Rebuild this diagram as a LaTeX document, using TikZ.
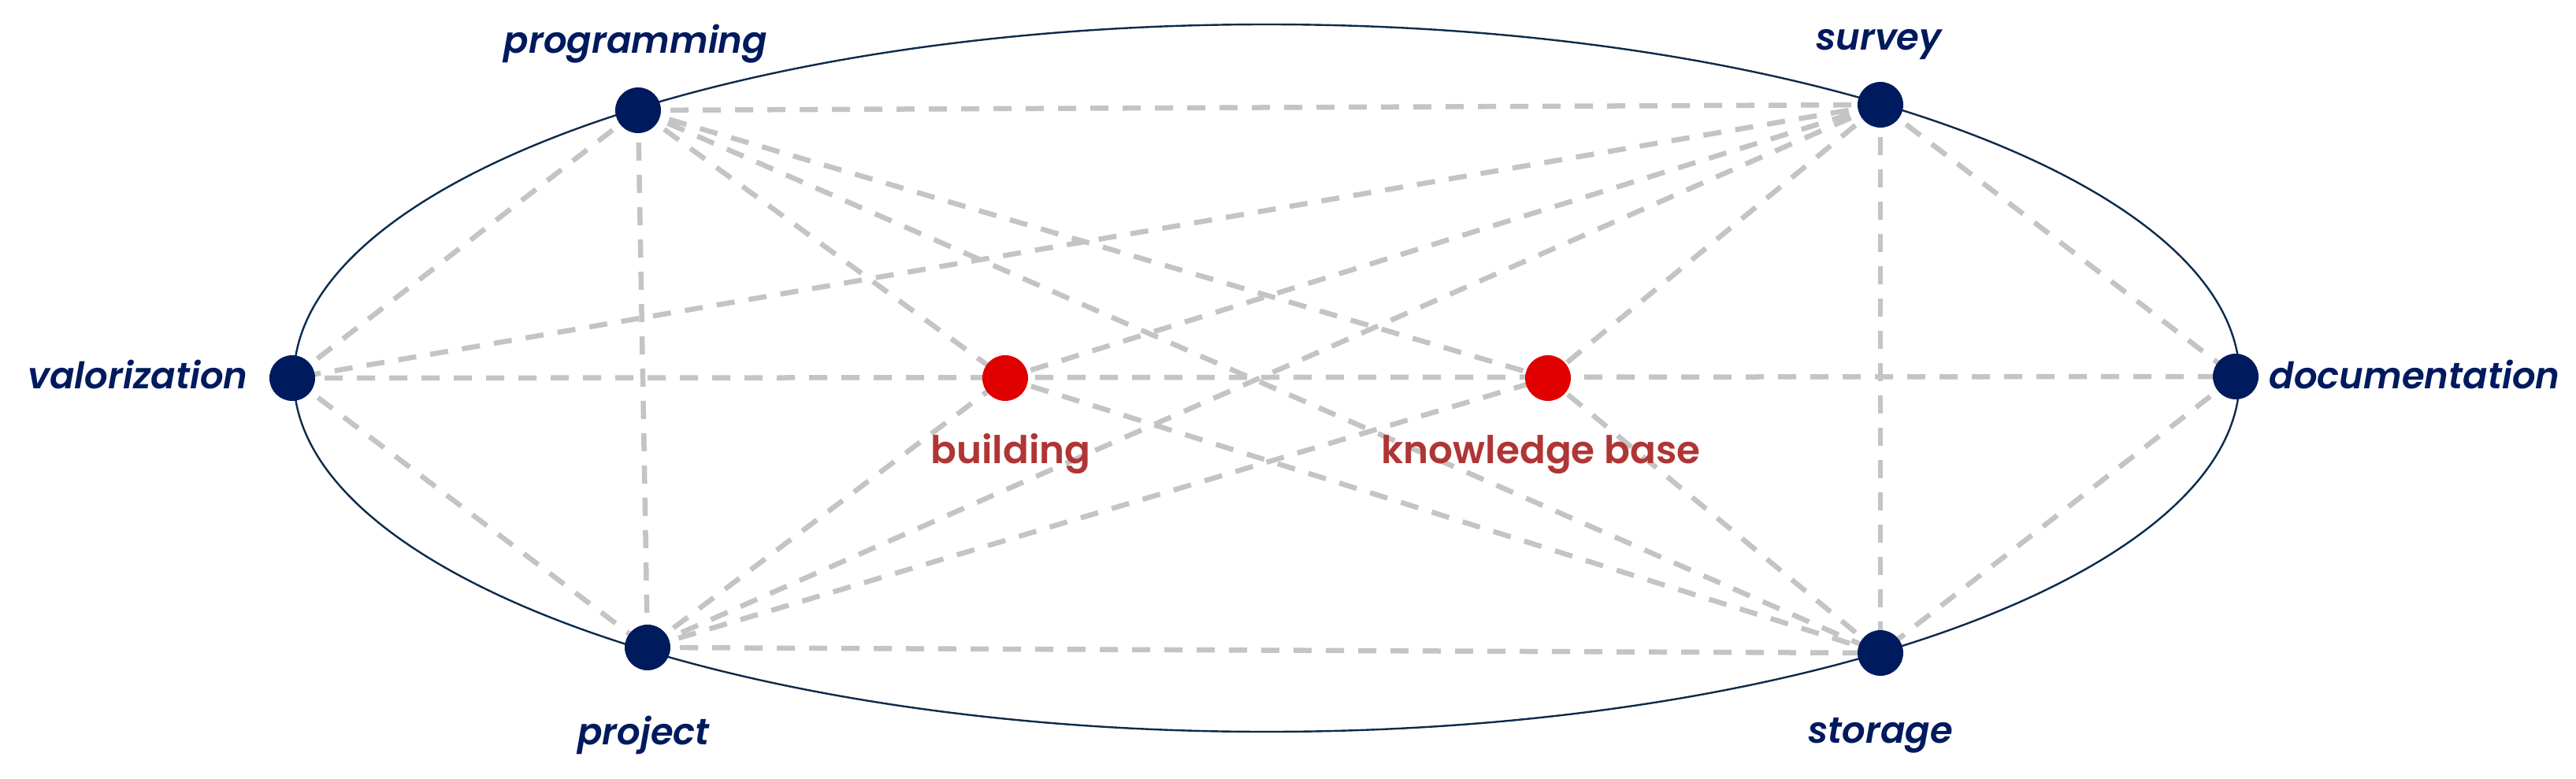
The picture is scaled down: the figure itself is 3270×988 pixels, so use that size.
\documentclass[tikz,border=0pt]{standalone}
\usepackage{fontspec}
\setmainfont{Poppins}[BoldFont={Poppins SemiBold},BoldItalicFont={Poppins SemiBold Italic}]
\newfontfamily\medfont{Poppins Medium}
\begin{document}
\begin{tikzpicture}[x=1pt,y=-1pt,
  hub/.style={circle,fill=navy,inner sep=0pt,minimum size=58pt},
  core/.style={circle,fill=hot,inner sep=0pt,minimum size=58pt},
  lbl/.style={text=navy,font=\fontsize{46.5}{52}\selectfont\bfseries\itshape,anchor=base,inner sep=0pt},
  rlbl/.style={text=brick,font=\fontsize{48.5}{54}\selectfont\bfseries,anchor=base,inner sep=0pt},
  link/.style={draw=lgrey,line width=6.5pt,dash pattern=on 23pt off 18pt},
  ring/.style={draw=ringc,line width=2.4pt}]
\definecolor{navy}{HTML}{001A5E}
\definecolor{hot}{HTML}{E00000}
\definecolor{brick}{HTML}{B03535}
\definecolor{lgrey}{HTML}{C4C4C4}
\definecolor{ringc}{HTML}{0B2B4B}
\fill[white] (0,0) rectangle (3270,988);
\useasboundingbox (0,0) rectangle (3270,988);
\draw[ring] (1608,480) ellipse [x radius=1235, y radius=449];
\coordinate (P) at (810,140);
\coordinate (S) at (2387,133);
\coordinate (V) at (371,480);
\coordinate (D) at (2838,478);
\coordinate (J) at (822,822);
\coordinate (T) at (2387,829);
\coordinate (B) at (1276,480);
\coordinate (K) at (1965,480);
\foreach \a/\b in {P/S,P/V,P/J,P/B,P/K,P/T,S/V,S/B,S/J,S/K,S/T,S/D,V/D,V/J,D/T,J/B,J/K,J/T,T/B,T/K}
  \draw[link] (\a) -- (\b);
\node[hub] (nP) at (P) {};
\node[hub] (nS) at (S) {};
\node[hub] (nV) at (V) {};
\node[hub] (nD) at (D) {};
\node[hub] (nJ) at (J) {};
\node[hub] (nT) at (T) {};
\node[core] (nB) at (B) {};
\node[core] (nK) at (K) {};
\node[lbl] (tP) at (807,67) {programming};
\node[lbl] (tS) at (2385,63) {survey};
\node[lbl] (tV) at (175,493) {valorization};
\node[lbl] (tD) at (3065,493) {documentation};
\node[lbl] (tJ) at (817,945) {project};
\node[lbl] (tT) at (2387,943) {storage};
\node[rlbl] (tB) at (1283,588) {building};
\node[rlbl] (tK) at (1956,588) {knowledge base};
\end{tikzpicture}
\end{document}
